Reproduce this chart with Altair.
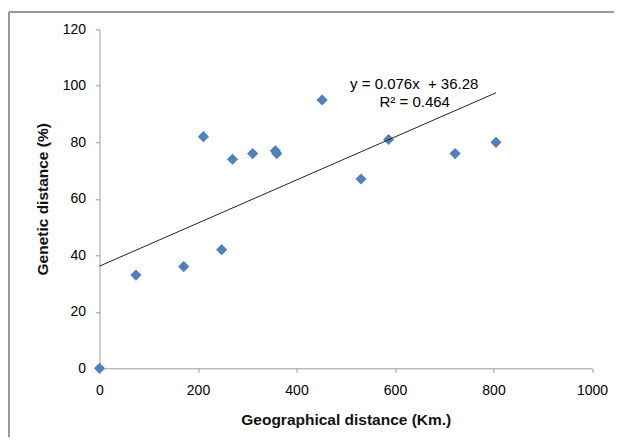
import altair as alt
import pandas as pd

# Data
geo_km = [0, 74, 171, 211, 248, 270, 311, 357, 360, 452, 531, 587, 722, 805]
gen_pct = [0, 33, 36, 82, 42, 74, 76, 77, 76, 95, 67, 81, 76, 80]

ann_text = ["y = 0.076x\u00a0 + 36.28", "R\u00b2 = 0.464"]
ann_x = [639, 640]
ann_y = [98.9, 92.5]

x_ticks = [0, 200, 400, 600, 800, 1000]
y_ticks = [0, 20, 40, 60, 80, 100, 120]

df = pd.DataFrame({"x": geo_km, "y": gen_pct})
ann = pd.DataFrame({"x": ann_x, "y": ann_y, "t": ann_text})

FONT = "Liberation Sans"
BLUE = "#4F81BD"
AXC = "#9a9a9a"

xs = alt.Scale(domain=[0, 1000], nice=False, zero=False)
ys = alt.Scale(domain=[0, 120], nice=False, zero=False)

x_axis = alt.Axis(values=x_ticks, title="Geographical distance (Km.)", format="d",
                  labelPadding=11, titlePadding=15)
y_axis = alt.Axis(values=y_ticks, title="Genetic distance (%)", format="d",
                  labelPadding=10, titlePadding=12)

points = alt.Chart(df).mark_point(shape="diamond", filled=True, size=125,
                                  color=BLUE, opacity=1).encode(
    x=alt.X("x:Q", scale=xs, axis=x_axis),
    y=alt.Y("y:Q", scale=ys, axis=y_axis),
)

trend = alt.Chart(df).transform_regression("x", "y", method="linear").mark_line(
    color="#222", strokeWidth=1
).encode(x=alt.X("x:Q", scale=xs, axis=x_axis), y=alt.Y("y:Q", scale=ys, axis=y_axis))

labels = alt.Chart(ann).mark_text(font=FONT, fontSize=15, color="black",
                                  align="center", baseline="alphabetic").encode(
    x=alt.X("x:Q", scale=xs, axis=x_axis), y=alt.Y("y:Q", scale=ys, axis=y_axis), text="t:N"
)

frame_top = alt.Chart(df).mark_rule(color="#999", strokeWidth=1.2).encode(
    x=alt.value(-90.5), x2=alt.value(514.5), y=alt.value(-17)
)
frame_left = alt.Chart(df).mark_rule(color="#999", strokeWidth=1.2).encode(
    x=alt.value(-90.5), y=alt.value(-17), y2=alt.value(408)
)

chart = alt.layer(frame_top, frame_left, points, trend, labels).properties(
    width=492.5, height=339,
    autosize=alt.AutoSizeParams(type="none"),
    padding={"left": 91.5, "top": 21.3, "right": 22, "bottom": 69},
    background="white",
).configure_view(stroke=None).configure_axis(
    grid=False, tickSize=4, domainColor=AXC, tickColor=AXC,
    labelFont=FONT, labelFontSize=14, labelColor="black", labelFlush=False,
    titleFont=FONT, titleFontSize=15.5, titleFontWeight="bold", titleColor="#111",
)

chart.save("out.html", embed_options={"renderer": "svg", "actions": False})
